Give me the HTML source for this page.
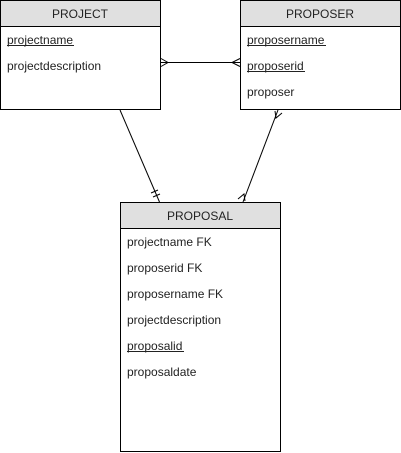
<!DOCTYPE html>
<html><head><style>
html,body{margin:0;padding:0;background:#fff;}
svg{display:block;}
text{font-family:"Liberation Sans",Arial,sans-serif;font-size:12px;fill:#222;}
</style></head><body>
<svg width="401" height="453" viewBox="0 0 401 453">
<g stroke="#000" stroke-width="1" fill="none">
<rect x="0.5" y="0.5" width="160" height="109" fill="#fff"/>
<rect x="0.5" y="0.5" width="160" height="26" fill="#e0e0e0"/>
<rect x="240.5" y="0.5" width="160" height="109" fill="#fff"/>
<rect x="240.5" y="0.5" width="160" height="26" fill="#e0e0e0"/>
<rect x="120.5" y="202.5" width="160" height="249" fill="#fff"/>
<rect x="120.5" y="202.5" width="160" height="26" fill="#e0e0e0"/>
<line x1="161" y1="62.5" x2="240" y2="62.5"/>
<path d="M161 58.5 L168 62.5 L161 66.5"/>
<path d="M240 58.5 L232 62.5 L240 66.5"/>
<line x1="120" y1="110" x2="159.5" y2="202"/>
<line x1="151" y1="193" x2="158" y2="190"/>
<line x1="153" y1="197" x2="160" y2="194"/>
<line x1="278" y1="110" x2="243" y2="202"/>
<path d="M275 111 L276 118 L282 113"/>
<path d="M238 199 L244 194 L245 201"/>
</g>
<text x="80" y="18" text-anchor="middle">PROJECT</text>
<text x="7" y="44">projectname</text>
<line x1="7" y1="45.5" x2="74" y2="45.5" stroke="#222" stroke-width="1"/>
<text x="7" y="70">projectdescription</text>
<text x="320" y="18" text-anchor="middle">PROPOSER</text>
<text x="247" y="44">proposername</text>
<line x1="247" y1="45.5" x2="326" y2="45.5" stroke="#222"/>
<text x="247" y="70">proposerid</text>
<line x1="247" y1="71.5" x2="305" y2="71.5" stroke="#222"/>
<text x="247" y="96">proposer</text>
<text x="200" y="220" text-anchor="middle">PROPOSAL</text>
<text x="127" y="246">projectname FK</text>
<text x="127" y="272">proposerid FK</text>
<text x="127" y="298">proposername FK</text>
<text x="127" y="324">projectdescription</text>
<text x="127" y="350">proposalid</text>
<line x1="127" y1="351.5" x2="184" y2="351.5" stroke="#222"/>
<text x="127" y="376">proposaldate</text>
</svg>
</body></html>
